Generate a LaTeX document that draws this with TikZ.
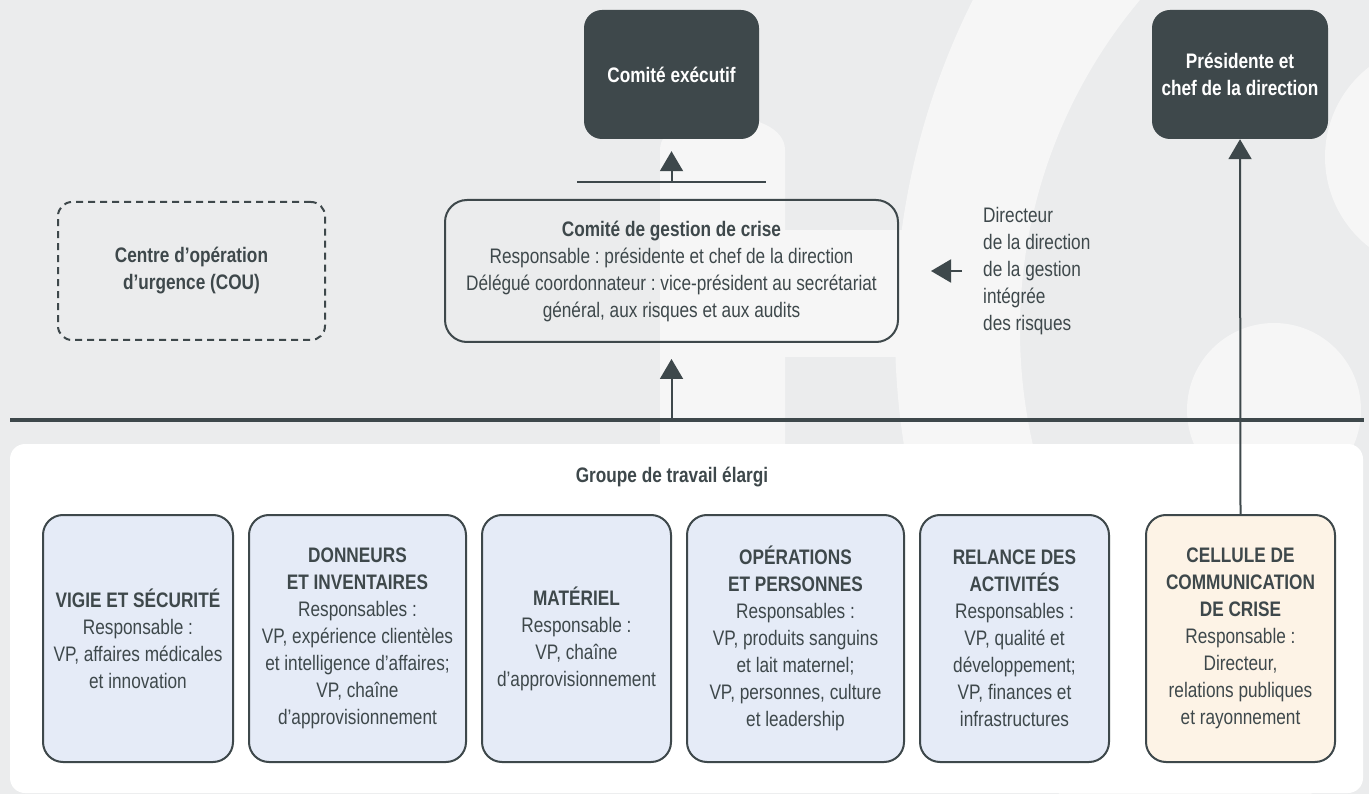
\documentclass[tikz,border=0pt]{standalone}
\usepackage{fontspec}
\setmainfont{Liberation Sans}[FakeStretch=0.82]
\usetikzlibrary{arrows.meta}
\definecolor{bgc}{HTML}{EBECED}
\definecolor{ltc}{HTML}{F6F6F6}
\definecolor{darkc}{HTML}{3E484B}
\definecolor{bluec}{HTML}{E5EBF7}
\definecolor{creamc}{HTML}{FDF3E6}
\frenchspacing
\begin{document}
\begin{tikzpicture}[x=1pt,y=-1pt,
  txt/.style={font=\fontsize{21}{27}\selectfont\frenchspacing, text=darkc, align=center},
  darkbox/.style={txt, fill=darkc, text=white, rounded corners=18pt, inner sep=0pt},
  crisebox/.style={txt, draw=darkc, line width=2pt, rounded corners=22pt, inner sep=0pt},
  dashbox/.style={txt, draw=darkc, line width=2pt, dash pattern=on 7pt off 5pt, rounded corners=14pt, inner sep=0pt},
  wgbox/.style={txt, draw=darkc, line width=2pt, fill=bluec, rounded corners=20pt, inner sep=0pt, minimum height=247pt},
  combox/.style={wgbox, fill=creamc},
  arr/.style={draw=darkc, line width=2pt, -{Triangle[length=20pt,width=23pt]}},
  plainline/.style={draw=darkc, line width=2pt}
]
\useasboundingbox (0,0) rectangle (1369,794);
% background
\begin{scope}
  \clip (0,0) rectangle (1369,794);
  \fill[bgc] (0,0) rectangle (1369,794);
  \fill[ltc] (660,600) -- (660,150) .. controls (660,105) and (785,105) .. (785,150) -- (785,600) -- cycle;
  \fill[ltc] (780,230) rectangle (910,357);
  \fill[ltc, even odd rule] (1632,330) circle (737) (1534,330) circle (514);
  \fill[ltc] (1439,157) circle (114);
  \fill[ltc] (1274,410) circle (87);
\end{scope}
% main horizontal line
\coordinate (hL) at (10,420);
\coordinate (hR) at (1364,420);
\coordinate (hM) at (671.5,420);
\draw[darkc, line width=3pt] (hL) -- (hR);
% lower panel
\node[fill=white, rounded corners=15pt, minimum width=1353pt, minimum height=349pt, inner sep=0pt] (panel) at (686.5,618.5) {};
% top boxes
\node[darkbox, minimum width=175pt, minimum height=129pt] (exec) at (671.5,74.5) {\bfseries Comité exécutif};
\node[darkbox, minimum width=176pt, minimum height=129pt] (pres) at (1240,74.5) {\bfseries Présidente et\\\bfseries chef de la direction};
% crisis committee
\node[crisebox, minimum width=453pt, minimum height=142pt] (gestion) at (671.5,271)
  {\bfseries Comité de gestion de crise\\Responsable : présidente et chef de la direction\\Délégué coordonnateur : vice-président au secrétariat\\général, aux risques et aux audits};
\node[dashbox, minimum width=267pt, minimum height=138pt] (cou) at (191.5,271)
  {\bfseries Centre d’opération\\\bfseries d’urgence (COU)};
\node[txt, align=left, anchor=west, inner sep=0pt] (dir) at (983,271)
  {Directeur\\de la direction\\de la gestion\\intégrée\\des risques};
% bar under exec
\coordinate (barL) at (577,182);
\coordinate (barR) at (766,182);
\coordinate (barM) at (671.5,182);
\draw[plainline] (barL) -- (barR);
\draw[arr, shorten >=12pt] (barM) -- (exec.south);
\draw[arr, shorten >=16pt] (hM) -- (gestion.south);
\draw[arr, shorten <=21pt, shorten >=32pt] (dir.west) -- (gestion.east);
% working group
\node[txt] (grp) at (672,477) {\bfseries Groupe de travail élargi};
\node[wgbox, minimum width=190pt] (vigie) at (138,638.5)
  {\bfseries VIGIE ET SÉCURITÉ\\Responsable :\\VP, affaires médicales\\et innovation};
\node[wgbox, minimum width=217pt] (donn) at (357.5,638.5)
  {\bfseries DONNEURS\\\bfseries ET INVENTAIRES\\Responsables :\\VP, expérience clientèles\\et intelligence d’affaires;\\VP, chaîne\\d’approvisionnement};
\node[wgbox, minimum width=189pt] (mat) at (576.5,638.5)
  {\bfseries MATÉRIEL\\Responsable :\\VP, chaîne\\d’approvisionnement};
\node[wgbox, minimum width=217pt] (oper) at (795.5,638.5)
  {\bfseries OPÉRATIONS\\\bfseries ET PERSONNES\\Responsables :\\VP, produits sanguins\\et lait maternel;\\VP, personnes, culture\\et leadership};
\node[wgbox, minimum width=189pt] (rel) at (1014.5,638.5)
  {\bfseries RELANCE DES\\\bfseries ACTIVITÉS\\Responsables :\\VP, qualité et\\développement;\\VP, finances et\\infrastructures};
\node[combox, minimum width=189pt] (cell) at (1240.5,638.5)
  {\bfseries CELLULE DE\\\bfseries COMMUNICATION\\\bfseries DE CRISE\\Responsable :\\Directeur,\\relations publiques\\et rayonnement};
\draw[arr] (cell.north) -- (pres.south);
\end{tikzpicture}
\end{document}
